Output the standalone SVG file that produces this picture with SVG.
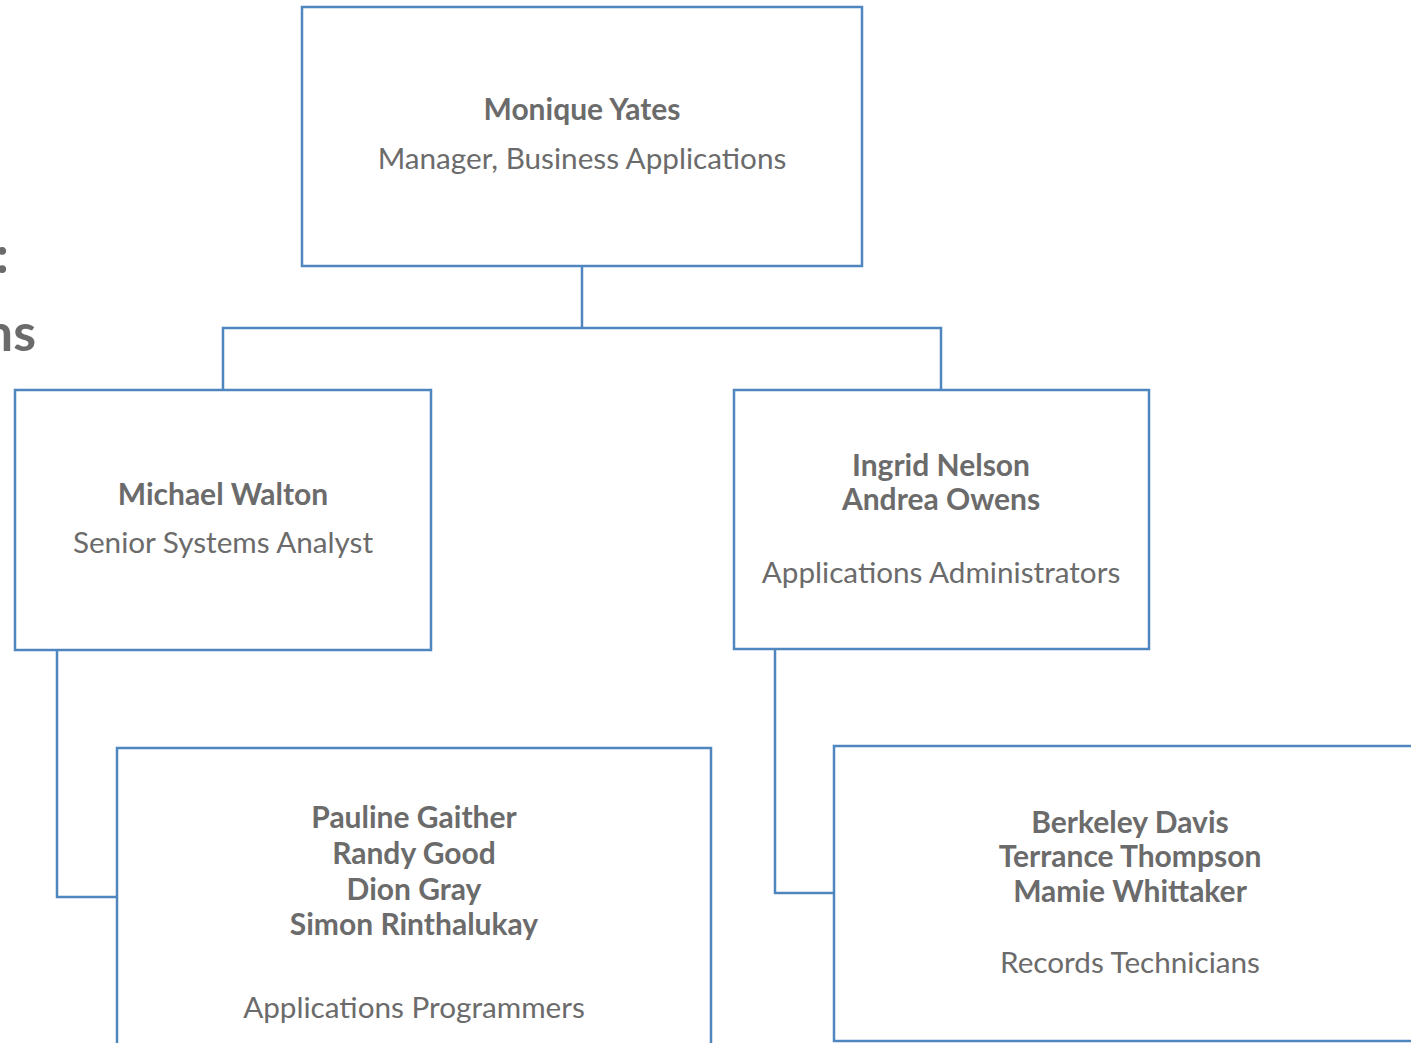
<svg xmlns="http://www.w3.org/2000/svg" width="1411" height="1043" viewBox="0 0 1411 1043">
<style>
.box{fill:#ffffff;stroke:#4F86C0;stroke-width:2.5}
.con{fill:none;stroke:#4F86C0;stroke-width:2.5}
text{font-family:Lato,"Open Sans","Liberation Sans",sans-serif;fill:#6b6b6b;text-anchor:middle}
.n{font-weight:bold;font-size:30px}
.r{font-size:29.7px}
.t{font-weight:bold;font-size:52px;text-anchor:end}
</style>
<text class="t" x="9" y="273">:</text>
<text class="t" x="36" y="351">ns</text>
<g id="connectors">
<path class="con" d="M582 266 V328 M223 390 V328 H941 V390"/>
<path class="con" d="M57 650 V897 H117"/>
<path class="con" d="M775 649 V893 H834"/>
</g>
<g id="monique">
<rect class="box" x="302" y="7" width="560" height="259"/>
<text class="n" x="582" y="120">Monique Yates</text>
<text class="r" x="582" y="169">Manager, Business Applications</text>
</g>
<g id="michael">
<rect class="box" x="15" y="390" width="416" height="260"/>
<text class="n" x="223" y="505">Michael Walton</text>
<text class="r" x="223" y="553">Senior Systems Analyst</text>
</g>
<g id="admins">
<rect class="box" x="734" y="390" width="415" height="259"/>
<text class="n" x="941" y="476">Ingrid Nelson</text>
<text class="n" x="941" y="510">Andrea Owens</text>
<text class="r" x="941" y="583">Applications Administrators</text>
</g>
<g id="programmers">
<rect class="box" x="117" y="748" width="594" height="320"/>
<text class="n" x="414" y="828">Pauline Gaither</text>
<text class="n" x="414" y="864">Randy Good</text>
<text class="n" x="414" y="900">Dion Gray</text>
<text class="n" x="414" y="935">Simon Rinthalukay</text>
<text class="r" x="414" y="1018">Applications Programmers</text>
</g>
<g id="technicians">
<rect class="box" x="834" y="746" width="600" height="295"/>
<text class="n" x="1130" y="833">Berkeley Davis</text>
<text class="n" x="1130" y="867">Terrance Thompson</text>
<text class="n" x="1130" y="902">Mamie Whittaker</text>
<text class="r" x="1130" y="973">Records Technicians</text>
</g>
</svg>
